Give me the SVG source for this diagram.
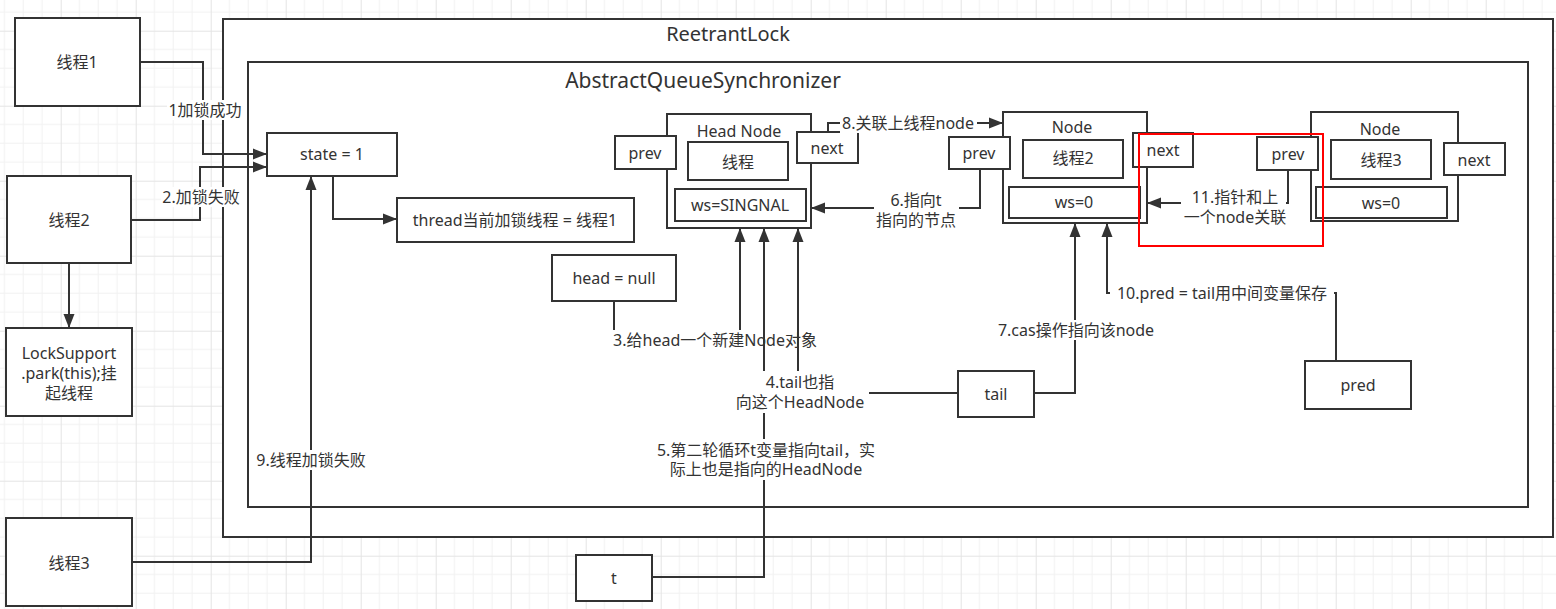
<svg xmlns="http://www.w3.org/2000/svg" width="1556" height="609" viewBox="0 0 1556 609">
<style>
.b{fill:#fff;stroke:#333;stroke-width:2}
.e{fill:none;stroke:#333;stroke-width:2}
.t{font-family:"Noto Sans","Noto Sans CJK SC",sans-serif;font-size:16px;fill:#333;text-anchor:middle;dominant-baseline:central}
.tt{font-size:20px}
.lb{fill:#fff}
</style>
<defs>
<pattern id="grid" width="75" height="75" patternUnits="userSpaceOnUse" x="60.7" y="30.7">
<path d="M18.75 0V75M37.5 0V75M56.25 0V75M0 18.75H75M0 37.5H75M0 56.25H75" stroke="#f1f1f1" stroke-width="1" fill="none"/>
<path d="M0.5 0V75M0 0.5H75" stroke="#e4e4e4" stroke-width="1" fill="none"/>
</pattern>
<marker id="a" markerUnits="userSpaceOnUse" markerWidth="14" markerHeight="12" refX="14" refY="6" orient="auto">
<path d="M0 0.5L14 6L0 11.5z" fill="#333"/>
</marker>
</defs>
<rect width="1556" height="609" fill="#fff"/>
<rect width="1556" height="609" fill="url(#grid)"/>

<g id="reetrantlock">
<rect class="b" x="223" y="19" width="1330" height="518"/>
<text class="t tt" x="728" y="33">ReetrantLock</text>
</g>
<g id="aqs">
<rect class="b" x="248" y="62" width="1280" height="445"/>
<text class="t" style="font-size:21px" x="703" y="80">AbstractQueueSynchronizer</text>
</g>

<g id="thread1"><rect class="b" x="15" y="18" width="125" height="88"/><text class="t" x="77" y="62">线程1</text></g>
<g id="thread2"><rect class="b" x="7" y="176" width="124" height="87"/><text class="t" x="69" y="220">线程2</text></g>
<g id="locksupport"><rect class="b" x="6" y="328" width="126" height="88"/>
<text class="t" x="69" y="353">LockSupport</text><text class="t" x="69" y="373">.park(this);挂</text><text class="t" x="69" y="393">起线程</text></g>
<g id="thread3"><rect class="b" x="6" y="518" width="126" height="88"/><text class="t" x="69" y="563">线程3</text></g>
<g id="state"><rect class="b" x="267" y="133" width="130" height="43"/><text class="t" x="332" y="154">state = 1</text></g>
<g id="owner"><rect class="b" x="397" y="198" width="237" height="44"/><text class="t" x="515" y="220">thread当前加锁线程 = 线程1</text></g>
<g id="headnull"><rect class="b" x="552" y="255" width="124" height="46"/><text class="t" x="614" y="278">head = null</text></g>
<g id="tvar"><rect class="b" x="576" y="555" width="76" height="46"/><text class="t" x="614" y="578">t</text></g>
<g id="tail"><rect class="b" x="958" y="371" width="76" height="46"/><text class="t" x="996" y="394">tail</text></g>
<g id="pred"><rect class="b" x="1305" y="361" width="106" height="48"/><text class="t" x="1358" y="385">pred</text></g>

<g id="headnode">
<rect class="b" x="667" y="114" width="144" height="114"/>
<text class="t" x="739" y="131">Head Node</text>
<rect class="b" x="688" y="142" width="100" height="38"/><text class="t" x="738" y="162">线程</text>
<rect class="b" x="675" y="189" width="131" height="32"/><text class="t" x="740" y="205">ws=SINGNAL</text>
<rect class="b" x="615" y="136" width="61" height="33"/><text class="t" x="645" y="153">prev</text>
<rect class="b" x="797" y="132" width="61" height="31"/><text class="t" x="827" y="148">next</text>
</g>
<g id="node2">
<rect class="b" x="1003" y="112" width="144" height="111"/>
<text class="t" x="1072" y="127">Node</text>
<rect class="b" x="1023" y="140" width="100" height="38"/><text class="t" x="1073" y="158">线程2</text>
<rect class="b" x="1009" y="187" width="131" height="31"/><text class="t" x="1074" y="202">ws=0</text>
<rect class="b" x="949" y="137" width="61" height="32"/><text class="t" x="979" y="153">prev</text>
<rect class="b" x="1133" y="133" width="60" height="34"/><text class="t" x="1163" y="150">next</text>
</g>
<g id="node3">
<rect class="b" x="1311" y="112" width="147" height="109"/>
<text class="t" x="1380" y="129">Node</text>
<rect class="b" x="1331" y="140" width="100" height="39"/><text class="t" x="1381" y="160">线程3</text>
<rect class="b" x="1316" y="187" width="131" height="31"/><text class="t" x="1381" y="203">ws=0</text>
<rect class="b" x="1257" y="137" width="61" height="33"/><text class="t" x="1288" y="154">prev</text>
<rect class="b" x="1444" y="143" width="61" height="32"/><text class="t" x="1474" y="160">next</text>
</g>

<g id="connectors">
<path class="e" d="M140 62H203V154H267" marker-end="url(#a)"/>
<rect class="lb" x="167" y="100" width="76" height="20"/><text class="t" x="205" y="110">1加锁成功</text>
<path class="e" d="M131 220H200V167H267" marker-end="url(#a)"/>
<rect class="lb" x="161" y="187" width="80" height="20"/><text class="t" x="201" y="197">2.加锁失败</text>
<path class="e" d="M69 263V328" marker-end="url(#a)"/>
<path class="e" d="M333 176V219H397" marker-end="url(#a)"/>
<path class="e" d="M132 562H311V176" marker-end="url(#a)"/>
<rect class="lb" x="255" y="450" width="112" height="20"/><text class="t" x="311" y="460">9.线程加锁失败</text>
<path class="e" d="M614 301V340H740V228" marker-end="url(#a)"/>
<rect class="lb" x="609" y="330" width="211" height="20"/><text class="t" x="715" y="340">3.给head一个新建Node对象</text>
<path class="e" d="M652 577H764V228" marker-end="url(#a)"/>
<path class="e" d="M958 393H798V228" marker-end="url(#a)"/>
<rect class="lb" x="732" y="371" width="137" height="42"/><text class="t" x="800" y="382">4.tail也指</text><text class="t" x="800" y="402">向这个HeadNode</text>
<rect class="lb" x="653" y="439" width="226" height="41"/><text class="t" x="766" y="450">5.第二轮循环t变量指向tail，实</text><text class="t" x="766" y="469">际上也是指向的HeadNode</text>
<path class="e" d="M980 169V208H811" marker-end="url(#a)"/>
<rect class="lb" x="874" y="190" width="85" height="41"/><text class="t" x="916" y="200">6.指向t</text><text class="t" x="916" y="220">指向的节点</text>
<path class="e" d="M1034 393H1075V223" marker-end="url(#a)"/>
<rect class="lb" x="995" y="320" width="162" height="20"/><text class="t" x="1076" y="330">7.cas操作指向该node</text>
<path class="e" d="M828 132V123H1003" marker-end="url(#a)"/>
<rect class="lb" x="840" y="113" width="137" height="20"/><text class="t" x="908" y="123">8.关联上线程node</text>
<path class="e" d="M1336 361V293H1107V223" marker-end="url(#a)"/>
<rect class="lb" x="1110" y="283" width="224" height="20"/><text class="t" x="1222" y="293">10.pred = tail用中间变量保存</text>
<path class="e" d="M1288 170V203H1147" marker-end="url(#a)"/>
<rect class="lb" x="1181" y="187" width="105" height="41"/><text class="t" x="1235" y="197">11.指针和上</text><text class="t" x="1235" y="217">一个node关联</text>
</g>
<rect id="highlight" x="1139" y="134" width="184" height="112" fill="none" stroke="#ff0000" stroke-width="2"/>
</svg>
